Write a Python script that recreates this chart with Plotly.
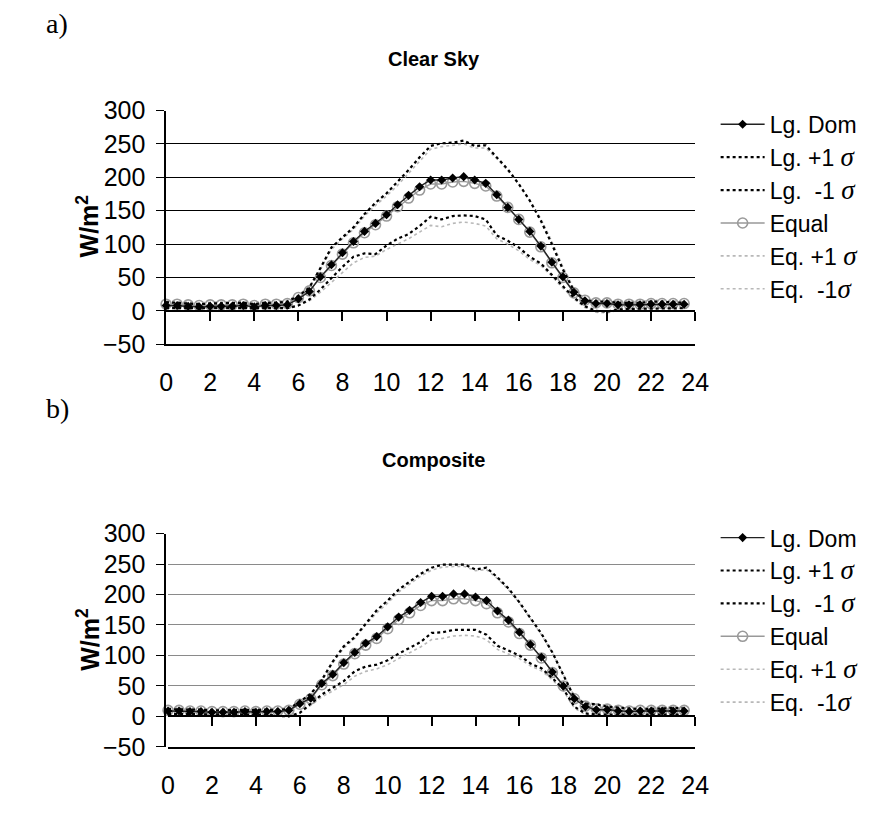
import plotly.graph_objects as go

hours = [i * 0.5 for i in range(48)]
x_ticks = list(range(0, 25, 2))
y_ticks = [-50, 0, 50, 100, 150, 200, 250, 300]

# ---- a) Clear Sky ----
cs_lg_dom = [8,8,7,6,7,7,7,8,6,8,8,9,
             18,29,51,69,87,104,119,131,144,159,173,186,
             196,196,199,201,196,191,174,155,137,119,97,73,
             51,28,15,11,11,9,9,9,10,10,10,10]
cs_lg_p1 = [13,12,11,10,11,11,11,12,10,12,12,14,
            22,35,64,95,110,125,145,162,176,193,211,230,
            247,251,252,255,247,248,230,212,190,165,135,100,
            62,30,16,14,14,12,12,12,14,14,13,12]
cs_lg_m1 = [4,4,3,3,3,3,3,4,3,4,3,4,
            8,17,32,49,66,81,86,85,98,108,115,127,
            141,137,142,143,142,137,113,105,95,81,71,54,
            37,20,7,0,-1,2,3,3,4,4,4,4]
cs_eq = [10,10,9,8,9,9,9,10,8,10,10,11,
         20,30,50,68,85,102,117,129,142,156,169,181,
         190,190,193,194,191,187,172,155,137,118,96,72,
         50,27,16,12,12,10,10,10,11,11,11,11]
cs_eq_p1 = [15,14,13,12,13,13,13,14,12,14,14,16,
            24,36,62,92,108,122,142,158,172,188,206,224,
            242,246,248,250,244,244,228,210,190,166,138,104,
            66,33,18,16,16,14,14,14,16,16,15,14]
cs_eq_m1 = [5,5,4,4,4,4,4,5,4,5,4,5,
            8,15,28,43,58,72,80,82,92,100,108,118,
            128,126,131,133,131,127,108,100,90,77,68,52,
            34,18,5,-2,-3,1,3,3,4,4,4,4]

# ---- b) Composite ----
co_lg_dom = [9,9,8,8,7,7,7,8,7,8,8,10,
             21,30,54,69,88,105,120,131,147,163,174,187,
             197,197,201,201,196,190,173,158,138,118,97,73,
             50,29,16,11,11,9,8,9,9,9,9,9]
co_lg_p1 = [12,12,11,11,10,10,10,11,10,11,11,12,
            24,37,60,90,115,130,152,174,190,208,221,234,
            244,249,249,249,241,244,228,210,187,162,136,105,
            68,31,21,20,16,14,13,12,12,13,14,13]
co_lg_m1 = [4,4,3,3,3,3,3,3,3,3,1,0,
            6,21,36,47,58,74,82,85,92,103,112,122,
            137,138,142,142,142,134,116,108,100,87,79,63,
            45,16,5,3,3,3,3,2,2,3,3,3]
co_eq = [10,10,9,9,8,8,8,9,8,9,9,10,
         20,29,52,67,86,103,117,128,144,159,170,182,
         190,190,193,193,190,185,170,155,136,117,96,72,
         50,29,17,12,12,10,9,10,10,10,10,10]
co_eq_p1 = [14,14,13,13,12,12,12,13,12,13,13,14,
            24,36,58,88,112,128,150,170,186,204,217,230,
            240,245,246,246,239,241,226,208,186,160,134,104,
            68,33,22,21,18,16,15,14,14,15,16,15]
co_eq_m1 = [4,4,3,3,3,3,3,3,3,3,1,0,
            5,18,32,42,52,66,74,78,85,95,104,114,
            126,128,132,133,132,126,110,102,95,83,75,60,
            42,14,3,1,1,2,2,1,1,2,2,2]

SIG = "<span style='font-family:Liberation Serif;font-style:italic;font-size:27px'>σ</span>"
names = ["Lg. Dom", "Lg. +1 " + SIG, "Lg.  -1 " + SIG, "Equal", "Eq. +1 " + SIG, "Eq.  -1" + SIG]

W, H = 878, 816
def px(x): return x / W
def py(y): return 1 - y / H

fig = go.Figure()

def add_panel(xa, ya, leg, dom, p1, m1, eq, ep1, em1):
    common = dict(x=hours, xaxis=xa, yaxis=ya, legend=leg, cliponaxis=False)
    fig.add_trace(go.Scatter(y=ep1, name=names[4], mode="lines", legendrank=5,
                             line=dict(color="#b8b8b8", width=1.6, dash="dot"), **common))
    fig.add_trace(go.Scatter(y=em1, name=names[5], mode="lines", legendrank=6,
                             line=dict(color="#b8b8b8", width=1.6, dash="dot"), **common))
    fig.add_trace(go.Scatter(y=eq, name=names[3], mode="lines+markers", legendrank=4,
                             line=dict(color="#999999", width=1.4),
                             marker=dict(symbol="circle-open", size=10, color="#9a9a9a",
                                         line=dict(width=1.6)), **common))
    fig.add_trace(go.Scatter(y=p1, name=names[1], mode="lines", legendrank=2,
                             line=dict(color="black", width=2.2, dash="dot"), **common))
    fig.add_trace(go.Scatter(y=m1, name=names[2], mode="lines", legendrank=3,
                             line=dict(color="black", width=2.2, dash="dot"), **common))
    fig.add_trace(go.Scatter(y=dom, name=names[0], mode="lines+markers", legendrank=1,
                             line=dict(color="#222222", width=1.4),
                             marker=dict(symbol="diamond", size=7, color="black"), **common))

add_panel("x", "y", "legend", cs_lg_dom, cs_lg_p1, cs_lg_m1, cs_eq, cs_eq_p1, cs_eq_m1)
add_panel("x2", "y2", "legend2", co_lg_dom, co_lg_p1, co_lg_m1, co_eq, co_eq_p1, co_eq_m1)

tickfont = dict(family="Liberation Sans", size=25, color="black")

def yaxis_cfg(dom, gridcolor, gw):
    return dict(domain=dom, range=[-50, 300], tickvals=y_ticks, ticks="outside", ticklen=8,
                tickcolor="black", showline=True, linecolor="black", linewidth=1.5,
                showgrid=True, gridcolor=gridcolor, gridwidth=gw, zeroline=False,
                tickfont=tickfont, ticklabelstandoff=6)

def xaxis_cfg(dom, anchor):
    return dict(domain=dom, anchor=anchor, range=[0, 24], tickvals=x_ticks,
                ticktext=[str(v) for v in x_ticks], ticks="", showgrid=False, zeroline=False,
                showline=True, linecolor="black", linewidth=1.5, tickfont=tickfont,
                ticklabelstandoff=15)

top_y = [py(342), py(100)]
bot_y = [py(759), py(538)]
top_x = [px(163), px(705)]
bot_x = [px(165), px(705)]

def zero_axis(dom, ydom, over):
    pos = ydom[0] + (ydom[1] - ydom[0]) * 50 / 350
    return dict(domain=dom, anchor="free", position=pos, overlaying=over, range=[0, 24],
                tickvals=x_ticks[1:], ticks="outside", ticklen=9, tickcolor="black",
                tickwidth=1.5, showticklabels=False, showline=True, linecolor="black",
                linewidth=1.5, showgrid=False, zeroline=False)

legfont = dict(family="Liberation Sans", size=23, color="black")
fig.update_layout(
    width=W, height=H, margin=dict(l=0, r=0, t=0, b=0),
    paper_bgcolor="white", plot_bgcolor="white", showlegend=True,
    xaxis=xaxis_cfg(top_x, "y"),
    yaxis=yaxis_cfg(top_y, "black", 1.4),
    xaxis2=xaxis_cfg(bot_x, "y2"),
    yaxis2=yaxis_cfg(bot_y, "#8a8a8a", 1.2),
    xaxis3=zero_axis(top_x, top_y, "x"),
    xaxis4=zero_axis(bot_x, bot_y, "x2"),
    legend=dict(x=px(726), y=py(92), xanchor="left", yanchor="top", font=legfont,
                bgcolor="rgba(0,0,0,0)", tracegroupgap=0, itemwidth=44),
    legend2=dict(x=px(726), y=py(520), xanchor="left", yanchor="top", font=legfont,
                 bgcolor="rgba(0,0,0,0)", tracegroupgap=0, itemwidth=44),
)

# empty helper traces so the zero-line overlay axes render
fig.add_trace(go.Scatter(x=[0], y=[None], xaxis="x3", yaxis="y", showlegend=False, hoverinfo="skip"))
fig.add_trace(go.Scatter(x=[0], y=[None], xaxis="x4", yaxis="y2", showlegend=False, hoverinfo="skip"))

ann = [
    dict(text="a)", x=px(38), y=py(10), xanchor="left", yanchor="middle",
         font=dict(family="Liberation Serif", size=28, color="black")),
    dict(text="b)", x=px(38), y=py(408), xanchor="left", yanchor="middle",
         font=dict(family="Liberation Serif", size=28, color="black")),
    dict(text="<b>Clear Sky</b>", x=px(437), y=py(47), xanchor="center", yanchor="middle",
         font=dict(family="Liberation Sans", size=20, color="black")),
    dict(text="<b>Composite</b>", x=px(437), y=py(462), xanchor="center", yanchor="middle",
         font=dict(family="Liberation Sans", size=20, color="black")),
    dict(text="<b>W/m<sup>2</sup></b>", x=px(83), y=py(220), textangle=-90,
         xanchor="center", yanchor="middle",
         font=dict(family="Liberation Sans", size=25, color="black")),
    dict(text="<b>W/m<sup>2</sup></b>", x=px(83), y=py(648), textangle=-90,
         xanchor="center", yanchor="middle",
         font=dict(family="Liberation Sans", size=25, color="black")),
]
for a in ann:
    a.update(xref="paper", yref="paper", showarrow=False)
fig.update_layout(annotations=ann)

fig.write_html("out.html", config={"displayModeBar": False},
               post_script="document.body.style.margin='0px';document.body.style.overflow='hidden';")
